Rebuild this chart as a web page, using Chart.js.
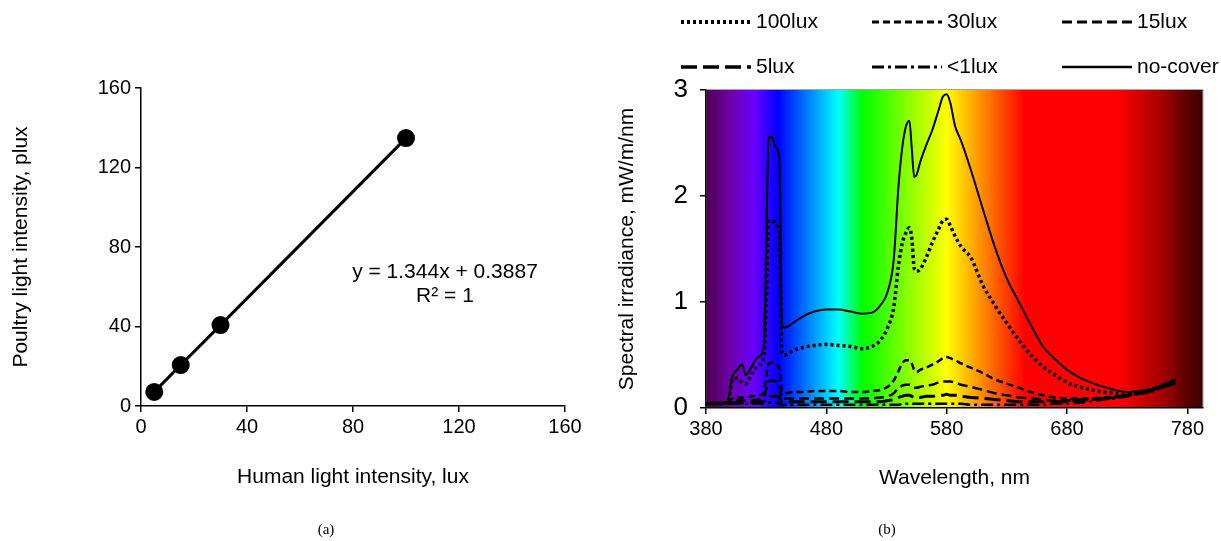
<!DOCTYPE html>
<html lang="en">
<head>
  <meta charset="UTF-8" />
  <title>Light intensity and spectra</title>
  <script src="https://cdn.jsdelivr.net/npm/chart.js"></script>
  <style>
    body { margin: 0; background: #fff; width: 1221px; height: 541px; position: relative; overflow: hidden; font-family: 'Liberation Sans', Arial, sans-serif; }
    #leftChart { position: absolute; left: 0; top: 0; }
    #rightChart { position: absolute; left: 600px; top: 0; }
    .panel { position: absolute; top: 521px; font: 15px 'Liberation Serif', 'Times New Roman', serif; width: 40px; text-align: center; }
  </style>
</head>
<body>

<canvas id="leftChart" width="600" height="541"></canvas>
<canvas id="rightChart" width="621" height="541"></canvas>
<div class="panel" style="left:306px">(a)</div>
<div class="panel" style="left:867px">(b)</div>

<script>
  // (a) human vs poultry light intensity
  const humanLux = [5, 15, 30, 100];
  const poultryLux = [7.1, 20.6, 40.7, 134.8];
  const fitText = ['y = 1.344x + 0.3887', 'R\u00B2 = 1'];

  // (b) spectral irradiance, mW/m/nm
  const wavelengths = [380, 390, 398, 402, 406, 410, 413, 418, 423, 428, 430, 432, 435, 438, 441, 443, 446, 452, 460, 470,
    480, 490, 500, 510, 518, 525, 531, 536, 540, 543, 546, 549, 551, 553, 555, 558, 563, 568, 573, 577,
    580, 583, 587, 592, 600, 610, 620, 630, 640, 650, 660, 670, 680, 690, 700, 710, 720, 730, 740, 750, 760, 770];

  const lux100 = [0.04, 0.04, 0.05, 0.27, 0.28, 0.24, 0.23, 0.32, 0.40, 0.48, 1.00, 1.76, 1.77, 1.72, 1.65, 0.52, 0.50, 0.54, 0.57, 0.59,
    0.60, 0.59, 0.58, 0.56, 0.58, 0.64, 0.76, 0.95, 1.35, 1.55, 1.65, 1.70, 1.60, 1.32, 1.29, 1.31, 1.42, 1.56, 1.68, 1.77,
    1.78, 1.72, 1.62, 1.52, 1.42, 1.16, 0.97, 0.80, 0.64, 0.50, 0.39, 0.31, 0.24, 0.20, 0.17, 0.15, 0.14, 0.13, 0.14, 0.16, 0.20, 0.25];
  const lux30 = [0.04, 0.04, 0.05, 0.09, 0.10, 0.10, 0.10, 0.11, 0.12, 0.14, 0.30, 0.42, 0.43, 0.41, 0.38, 0.15, 0.14, 0.15, 0.15, 0.16,
    0.16, 0.16, 0.15, 0.15, 0.16, 0.17, 0.20, 0.26, 0.35, 0.42, 0.45, 0.45, 0.42, 0.36, 0.34, 0.36, 0.38, 0.41, 0.44, 0.47,
    0.48, 0.47, 0.45, 0.42, 0.38, 0.33, 0.27, 0.23, 0.19, 0.15, 0.12, 0.10, 0.09, 0.09, 0.09, 0.10, 0.11, 0.12, 0.14, 0.17, 0.20, 0.24];
  const lux15 = [0.04, 0.04, 0.05, 0.06, 0.07, 0.07, 0.07, 0.07, 0.08, 0.09, 0.18, 0.25, 0.26, 0.25, 0.22, 0.09, 0.09, 0.09, 0.09, 0.09,
    0.09, 0.09, 0.09, 0.09, 0.09, 0.10, 0.11, 0.14, 0.19, 0.21, 0.22, 0.22, 0.21, 0.19, 0.19, 0.20, 0.21, 0.22, 0.24, 0.25,
    0.25, 0.25, 0.24, 0.22, 0.20, 0.17, 0.14, 0.12, 0.10, 0.09, 0.08, 0.07, 0.07, 0.08, 0.08, 0.09, 0.10, 0.12, 0.14, 0.17, 0.20, 0.24];
  const lux5 = [0.04, 0.04, 0.04, 0.05, 0.05, 0.05, 0.05, 0.05, 0.06, 0.06, 0.09, 0.11, 0.11, 0.11, 0.10, 0.06, 0.06, 0.06, 0.06, 0.06,
    0.06, 0.06, 0.06, 0.06, 0.06, 0.06, 0.07, 0.08, 0.10, 0.11, 0.12, 0.12, 0.11, 0.10, 0.10, 0.10, 0.11, 0.11, 0.12, 0.12,
    0.13, 0.12, 0.12, 0.11, 0.10, 0.09, 0.08, 0.07, 0.06, 0.06, 0.06, 0.06, 0.06, 0.07, 0.08, 0.09, 0.10, 0.12, 0.14, 0.17, 0.20, 0.24];
  const lux1 = [0.04, 0.04, 0.04, 0.04, 0.04, 0.04, 0.04, 0.04, 0.04, 0.04, 0.04, 0.05, 0.05, 0.05, 0.04, 0.03, 0.03, 0.03, 0.03, 0.03,
    0.03, 0.03, 0.03, 0.03, 0.03, 0.03, 0.03, 0.03, 0.03, 0.04, 0.04, 0.04, 0.04, 0.04, 0.04, 0.04, 0.04, 0.04, 0.04, 0.04,
    0.04, 0.04, 0.04, 0.04, 0.03, 0.03, 0.03, 0.03, 0.03, 0.03, 0.03, 0.04, 0.04, 0.05, 0.06, 0.08, 0.09, 0.11, 0.13, 0.16, 0.20, 0.23];
  const noCover = [0.05, 0.05, 0.06, 0.30, 0.36, 0.41, 0.31, 0.39, 0.48, 0.57, 1.50, 2.56, 2.55, 2.46, 2.35, 0.78, 0.76, 0.80, 0.86, 0.91,
    0.93, 0.93, 0.91, 0.89, 0.90, 0.97, 1.10, 1.40, 2.10, 2.45, 2.65, 2.71, 2.45, 2.18, 2.20, 2.32, 2.48, 2.62, 2.80, 2.94,
    2.96, 2.88, 2.66, 2.52, 2.25, 1.88, 1.52, 1.22, 1.00, 0.78, 0.58, 0.46, 0.36, 0.29, 0.24, 0.20, 0.17, 0.15, 0.16, 0.18, 0.22, 0.27];

  const seriesLabels = ['100lux', '30lux', '15lux', '5lux', '<1lux', 'no-cover'];
  const axisTicks = [0, 40, 80, 120, 160];
  const wavelengthTicks = [380, 480, 580, 680, 780];
  const irradianceTicks = [0, 1, 2, 3];

  const FONT = "'Liberation Sans', Arial, sans-serif";
  Chart.defaults.font.family = FONT;
  Chart.defaults.color = '#000';

  function pairs(xs, ys) {
    return xs.map((x, i) => ({ x: x, y: ys[i] }));
  }

  function axisStyle(size, pad) {
    return {
      border: { color: '#000', width: 1.5 },
      grid: { drawOnChartArea: false, color: '#000', lineWidth: 1.5, tickLength: 6 },
      ticks: { font: { size: size }, padding: pad, color: '#000' }
    };
  }

  // ---------- chart (a) ----------
  const equationPlugin = {
    id: 'equation',
    afterDraw(chart) {
      const ctx = chart.ctx;
      ctx.save();
      ctx.fillStyle = '#000';
      ctx.font = '21px ' + FONT;
      ctx.textAlign = 'center';
      ctx.textBaseline = 'middle';
      ctx.fillText(fitText[0], 445, 272);
      ctx.fillText(fitText[1], 445, 296);
      ctx.restore();
    }
  };

  const ax = axisStyle(20, 3), ay = axisStyle(20, 4);
  new Chart(document.getElementById('leftChart'), {
    type: 'scatter',
    data: {
      datasets: [{
        data: pairs(humanLux, poultryLux),
        showLine: true,
        borderColor: '#000',
        borderWidth: 3,
        backgroundColor: '#000',
        pointRadius: 7.5,
        pointHoverRadius: 7.5
      }]
    },
    options: {
      responsive: false,
      animation: false,
      layout: { padding: { top: 88, right: 35, bottom: 0, left: 0 } },
      plugins: { legend: { display: false }, tooltip: { enabled: false } },
      scales: {
        x: Object.assign(ax, {
          type: 'linear', min: 0, max: 160,
          afterBuildTicks: s => { s.ticks = axisTicks.map(v => ({ value: v })); },
          afterFit: s => { s.height = 135; },
          title: { display: true, text: 'Human light intensity, lux', font: { size: 21 }, padding: { top: 0, bottom: 51 } }
        }),
        y: Object.assign(ay, {
          min: 0, max: 160,
          afterBuildTicks: s => { s.ticks = axisTicks.map(v => ({ value: v })); },
          afterFit: s => { s.width = 141; },
          title: { display: true, text: 'Poultry light intensity, plux', font: { size: 21 }, padding: { top: 9, bottom: 0 } }
        })
      }
    },
    plugins: [equationPlugin]
  });

  // ---------- chart (b) ----------
  const spectrumStops = [
    [380, '#4d004d'], [400, '#6e00a8'], [420, '#6a00ff'], [440, '#0000ff'], [490, '#00ffff'],
    [510, '#00ff00'], [580, '#ffff00'], [645, '#ff0000'], [722, '#ff0000'], [760, '#a00000'], [780, '#5a0000'], [794, '#3c0000']
  ];

  const spectrumPlugin = {
    id: 'spectrum',
    beforeDraw(chart) {
      const { ctx, chartArea: a, scales: { x } } = chart;
      const g = ctx.createLinearGradient(a.left, 0, a.right, 0);
      spectrumStops.forEach(([nm, c]) => {
        const t = (x.getPixelForValue(nm) - a.left) / (a.right - a.left);
        g.addColorStop(Math.min(1, Math.max(0, t)), c);
      });
      ctx.save();
      ctx.fillStyle = g;
      ctx.fillRect(a.left, a.top, a.right - a.left, a.bottom - a.top);
      ctx.strokeStyle = '#a6a6a6';
      ctx.lineWidth = 1;
      ctx.strokeRect(a.left, a.top - 0.5, a.right - a.left, a.bottom - a.top);
      ctx.restore();
    }
  };

  const legendCols = [81, 272, 462];
  const legendRows = [22, 67];
  const gridLegend = {
    id: 'gridLegend',
    afterDraw(chart) {
      const ctx = chart.ctx;
      ctx.save();
      chart.data.datasets.forEach((ds, i) => {
        const x = legendCols[i % 3], y = legendRows[Math.floor(i / 3)];
        ctx.strokeStyle = '#000';
        ctx.lineWidth = ds.borderWidth + 0.5;
        ctx.setLineDash(ds.borderDash || []);
        ctx.beginPath();
        ctx.moveTo(x, y);
        ctx.lineTo(x + 70, y);
        ctx.stroke();
        ctx.setLineDash([]);
        ctx.fillStyle = '#000';
        ctx.font = '21px ' + FONT;
        ctx.textBaseline = 'middle';
        ctx.fillText(ds.label, x + 75, y);
      });
      ctx.restore();
    }
  };

  const seriesValues = [lux100, lux30, lux15, lux5, lux1, noCover];
  const seriesDash = [[3, 3], [7, 4], [10, 5], [16, 6], [12, 4, 3, 4], []];
  const seriesWidth = [3.5, 2.5, 2.5, 3, 2.5, 2];

  const bx = axisStyle(20, 3), by = axisStyle(26, 12);
  new Chart(document.getElementById('rightChart'), {
    type: 'line',
    data: {
      datasets: seriesLabels.map((label, i) => ({
        label: label,
        data: pairs(wavelengths, seriesValues[i]),
        borderColor: '#000',
        borderWidth: seriesWidth[i],
        borderDash: seriesDash[i],
        pointRadius: 0,
        cubicInterpolationMode: 'monotone',
        fill: false
      }))
    },
    options: {
      responsive: false,
      animation: false,
      layout: { padding: { top: 90, right: 18, bottom: 0, left: 0 } },
      plugins: { legend: { display: false }, tooltip: { enabled: false } },
      scales: {
        x: Object.assign(bx, {
          type: 'linear', min: 380, max: 793,
          afterBuildTicks: s => { s.ticks = wavelengthTicks.map(v => ({ value: v })); },
          afterFit: s => { s.height = 133; },
          title: { display: true, text: 'Wavelength, nm', font: { size: 21 }, padding: { top: 0, bottom: 50 } }
        }),
        y: Object.assign(by, {
          min: 0, max: 3,
          afterBuildTicks: s => { s.ticks = irradianceTicks.map(v => ({ value: v })); },
          afterFit: s => { s.width = 106; },
          title: { display: true, text: 'Spectral irradiance, mW/m/nm', font: { size: 21 }, padding: { top: 15, bottom: 0 } }
        })
      }
    },
    plugins: [spectrumPlugin, gridLegend]
  });
</script>

</body>
</html>
